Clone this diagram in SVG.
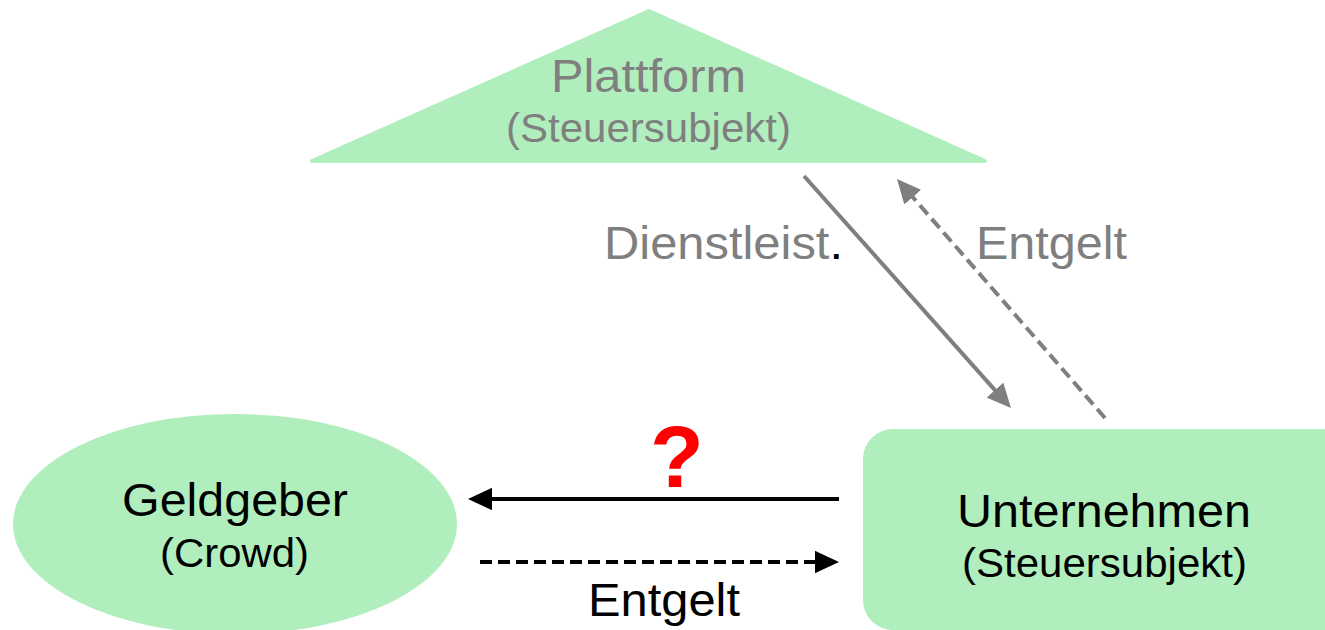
<svg xmlns="http://www.w3.org/2000/svg" width="1325" height="630" viewBox="0 0 1325 630">
  <style>
    .shape { fill: #B0EFBD; }
    .t { font-family: "Liberation Sans", Arial, sans-serif; text-anchor: middle; }
    .main { font-size: 46px; }
    .sub { font-size: 40px; }
    .gray { fill: #7F7F7F; }
    .black { fill: #000000; }
    .conn { fill: none; stroke-width: 4; }
    .g { stroke: #7F7F7F; }
    .k { stroke: #000000; }
    .dash { stroke-dasharray: 12 6; }
  </style>
  <defs>
    <marker id="ahGray" viewBox="0 0 6 5.6" refX="2" refY="2.8" markerWidth="6" markerHeight="5.6" markerUnits="strokeWidth" orient="auto">
      <path d="M0,0 L6,2.8 L0,5.6 z" fill="#7F7F7F"/>
    </marker>
    <marker id="ahBlack" viewBox="0 0 6 5.6" refX="2" refY="2.8" markerWidth="6" markerHeight="5.6" markerUnits="strokeWidth" orient="auto">
      <path d="M0,0 L6,2.8 L0,5.6 z" fill="#000000"/>
    </marker>
  </defs>

  <g id="plattform">
    <polygon class="shape" points="649,11 312,161 985,161" stroke="#B0EFBD" stroke-width="4" stroke-linejoin="round"/>
    <text class="t main gray" x="648.5" y="92" textLength="195" lengthAdjust="spacingAndGlyphs">Plattform</text>
    <text class="t sub gray" x="648.5" y="142" textLength="285" lengthAdjust="spacingAndGlyphs">(Steuersubjekt)</text>
  </g>

  <g id="geldgeber">
    <ellipse class="shape" cx="235" cy="524" rx="222" ry="110"/>
    <text class="t main black" x="235" y="516" textLength="226" lengthAdjust="spacingAndGlyphs">Geldgeber</text>
    <text class="t sub black" x="234.5" y="567" textLength="149" lengthAdjust="spacingAndGlyphs">(Crowd)</text>
  </g>

  <g id="unternehmen">
    <rect class="shape" x="863" y="429" width="500" height="201" rx="30" ry="30"/>
    <text class="t main black" x="1104" y="527" textLength="294" lengthAdjust="spacingAndGlyphs">Unternehmen</text>
    <text class="t sub black" x="1104.5" y="577" textLength="285" lengthAdjust="spacingAndGlyphs">(Steuersubjekt)</text>
  </g>

  <g id="connectors">
    <line class="conn g" x1="804" y1="176" x2="1000.3" y2="396.1" marker-end="url(#ahGray)"/>
    <line class="conn g dash" x1="1105" y1="418" x2="907.5" y2="191.1" marker-end="url(#ahGray)"/>
    <line class="conn k" x1="839" y1="499" x2="484" y2="499" marker-end="url(#ahBlack)"/>
    <line class="conn k dash" x1="480" y1="562" x2="823" y2="562" marker-end="url(#ahBlack)"/>
  </g>

  <g id="labels">
    <text class="t main" x="723.5" y="259" textLength="239" lengthAdjust="spacingAndGlyphs"><tspan class="gray">Dienstleist</tspan><tspan class="black">.</tspan></text>
    <text class="t main gray" x="1051.5" y="259" textLength="151" lengthAdjust="spacingAndGlyphs">Entgelt</text>
    <text class="t" x="677" y="487" font-size="88" font-weight="bold" fill="#FF0000">?</text>
    <text class="t main black" x="664" y="616" textLength="152" lengthAdjust="spacingAndGlyphs">Entgelt</text>
  </g>
</svg>
